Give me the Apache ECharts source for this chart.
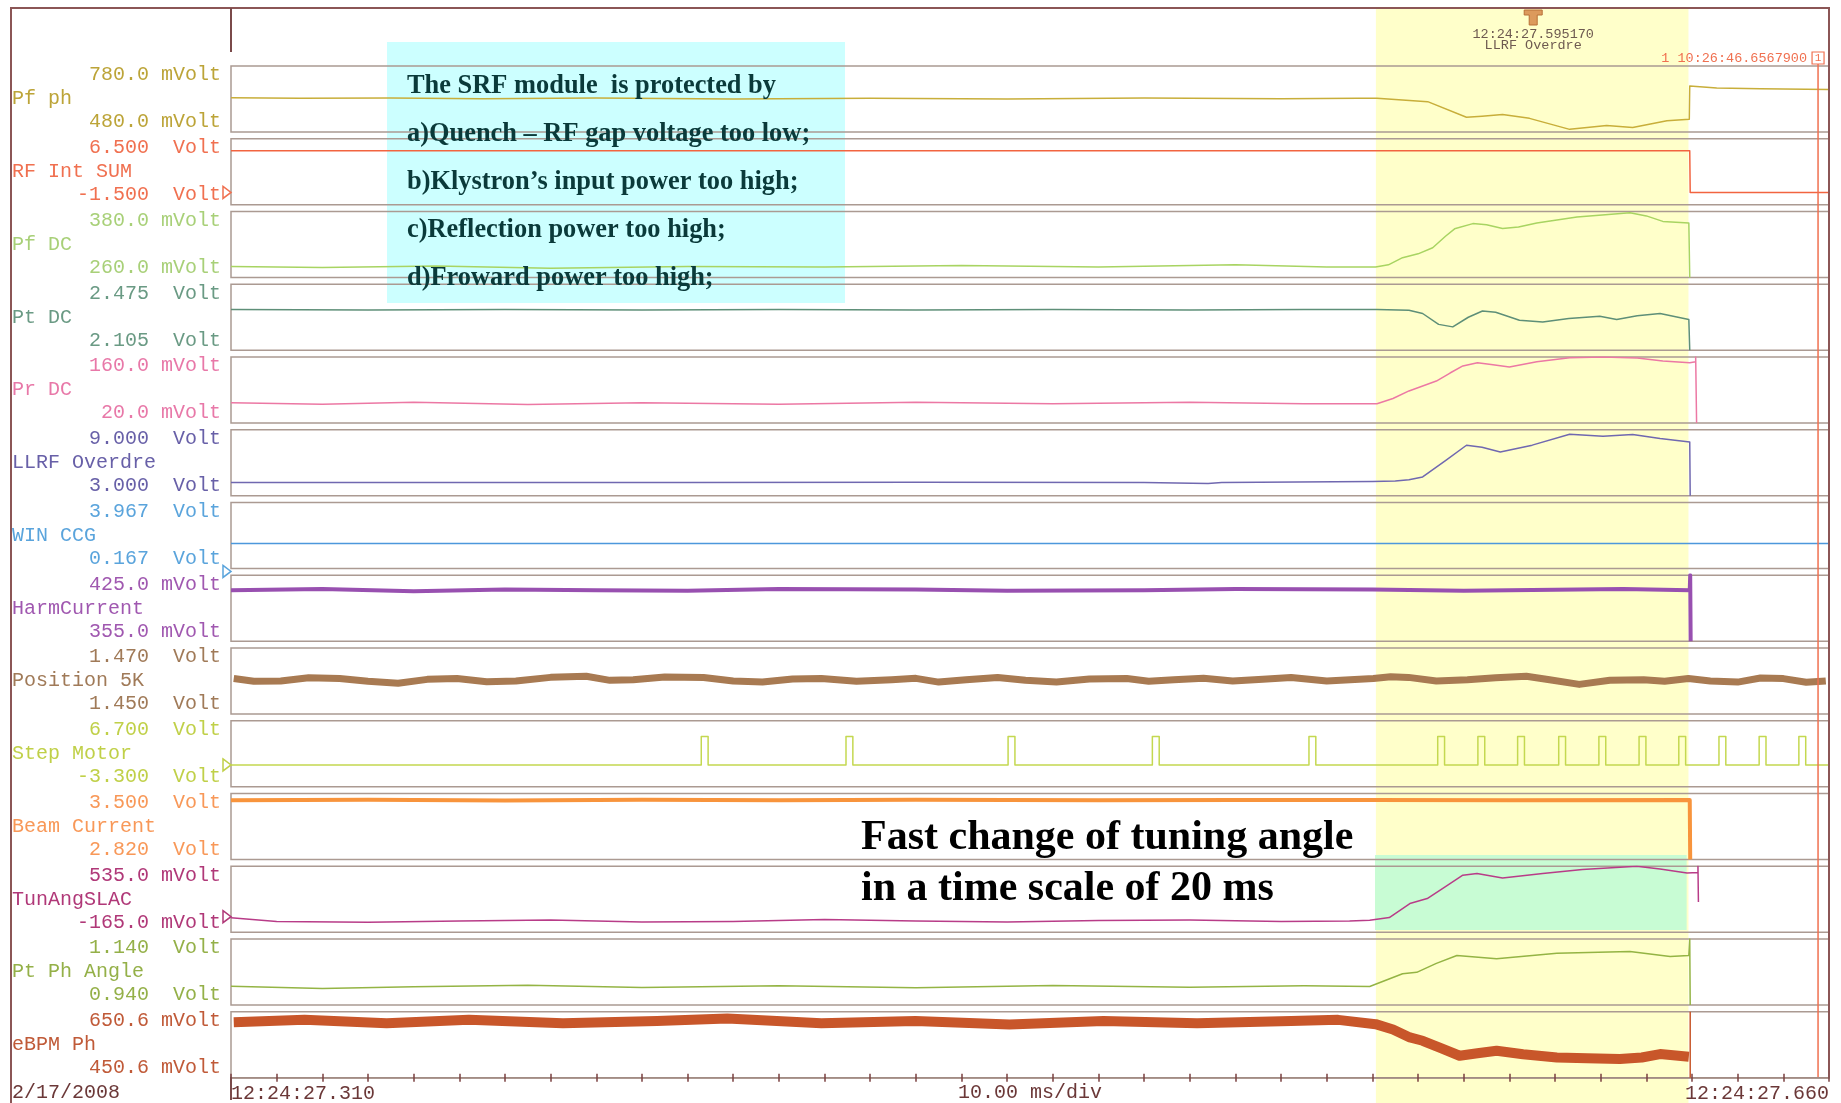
<!DOCTYPE html>
<html><head><meta charset="utf-8">
<script src="https://cdn.jsdelivr.net/npm/echarts@6/dist/echarts.min.js"></script>
<style>html,body{margin:0;padding:0;background:#fff}#c{width:1841px;height:1103px}</style>
</head><body><div id="c"></div>
<script>
// ---------------- DATA ----------------
const timeStart = 310, timeEnd = 660;           // ms after 12:24:27.000
const tickLabels = ['12:24:27.310', '12:24:27.660'];
const axisUnit = '10.00 ms/div';
const dateText = '2/17/2008';
const triggerTime = 595.17;
const triggerText = ['12:24:27.595170', 'LLRF Overdre'];
const cursorText = '1 10:26:46.6567900';
const cursorTime = 657.6;
const highlightYellow = [560.7, 629.2];
const highlightGreen = [560.5, 628.8];

const names = ['Pf ph','RF Int SUM','Pf DC','Pt DC','Pr DC','LLRF Overdre','WIN CCG','HarmCurrent','Position 5K','Step Motor','Beam Current','TunAngSLAC','Pt Ph Angle','eBPM Ph'];
const topLabels = ['780.0 mVolt','6.500  Volt','380.0 mVolt','2.475  Volt','160.0 mVolt','9.000  Volt','3.967  Volt','425.0 mVolt','1.470  Volt','6.700  Volt','3.500  Volt','535.0 mVolt','1.140  Volt','650.6 mVolt'];
const bottomLabels = ['480.0 mVolt','-1.500  Volt','260.0 mVolt','2.105  Volt','20.0 mVolt','3.000  Volt','0.167  Volt','355.0 mVolt','1.450  Volt','-3.300  Volt','2.820  Volt','-165.0 mVolt','0.940  Volt','450.6 mVolt'];
const yMax = [780, 6.5, 380, 2.475, 160, 9, 3.967, 425, 1.47, 6.7, 3.5, 535, 1.14, 650.6];
const yMin = [480, -1.5, 260, 2.105, 20, 3, 0.167, 355, 1.45, -3.3, 2.82, -165, 0.94, 450.6];
const zeroMarkers = [1, 6, 9, 11];

const pfPh = [[310,636],[325,633],[345,635],[365,631],[390,634],[420,630],[450,633],[480,630],[510,634],[540,631],[556.9,633],[561,633],[572.1,618],[580.6,547],[584,552],[588.5,560],[594.4,542],[603.2,492],[607,500],[611.3,509],[617,500],[624.5,531],[629.4,538],[629.5,689],[635.4,680],[645,677],[660,673]];
const rfIntSum = [[310,5.05],[629.5,5.05],[629.6,0],[660,0]];
const pfDC = [[310,280],[330,278],[355,281],[380,277],[410,280],[440,279],[470,282],[500,279],[530,283],[550,279],[560.7,279],[563.5,283],[566.6,296],[570,303],[573.2,314],[576,335],[578,348.5],[582,358],[585,356],[588.5,349],[592,352],[596,359],[604.8,370],[611,374],[616.4,377.6],[620,372],[623.6,362],[629.3,359],[629.5,260]];
const ptDC = [[310,2.333],[340,2.331],[370,2.334],[400,2.330],[430,2.333],[460,2.331],[490,2.334],[520,2.331],[545,2.333],[561,2.333],[568,2.329],[571,2.311],[574.5,2.250],[577.6,2.236],[581,2.290],[584.1,2.325],[587,2.318],[592.2,2.273],[597.3,2.264],[603,2.283],[609.8,2.296],[613.5,2.277],[618,2.298],[623,2.311],[629.3,2.277],[629.5,2.105]];
const prDC = [[310,63],[330,60],[350,64],[375,59],[400,63],[430,60],[460,64],[490,61],[520,64],[545,61],[561,61],[564.5,72],[568,88],[574,109],[577,126],[579.8,141],[583,148],[586,144],[590,139],[596,150],[603.2,158.5],[610.5,160],[618,158],[623.6,151.5],[629.5,148],[630.8,150],[630.8,160],[631,20]];
const llrfOverdrive = [[310,4.2],[360,4.21],[410,4.2],[460,4.22],[510,4.2],[524,4.12],[527,4.2],[560,4.3],[565,4.35],[568,4.45],[571,4.71],[576,6.2],[580.6,7.59],[584,7.4],[588,6.98],[595,7.6],[603.2,8.59],[610.5,8.41],[617,8.56],[623,8.2],[629.5,7.89],[629.6,3.0]];
const winCCG = [[310,1.6],[400,1.61],[500,1.6],[600,1.61],[660,1.6]];
const harmCurrent = [[310,409],[330,410.5],[350,408],[370,410],[390,409],[410,408.5],[430,410.5],[460,410],[480,408.5],[510,409],[530,410.5],[560,410],[580,408.5],[600,409.5],[615,410.5],[629.5,409],[629.6,425],[629.7,355]];
const position5K = [[310.6,1.46073],[315,1.45990],[320.9,1.46003],[327,1.46100],[333.8,1.46073],[340,1.45990],[346.6,1.4593],[353,1.46050],[359.5,1.46073],[366,1.45980],[372.4,1.46003],[380,1.46110],[387.8,1.46145],[393,1.46020],[398.1,1.46039],[405,1.46120],[413.5,1.46109],[420,1.46000],[426.4,1.45967],[433,1.46060],[439.3,1.46073],[447,1.45990],[454.7,1.46039],[460,1.46080],[465,1.45967],[471,1.46040],[477.9,1.46109],[484,1.46020],[490.8,1.45967],[498,1.46060],[506.2,1.46073],[511,1.45990],[516.5,1.46039],[523,1.46080],[529.4,1.46003],[536,1.46050],[542.2,1.46109],[550,1.46000],[560.2,1.46073],[564,1.46130],[567.9,1.46109],[574,1.46000],[580.8,1.46039],[587,1.46100],[593.7,1.46145],[598.8,1.46039],[605.3,1.45897],[612,1.46020],[619.4,1.46039],[624,1.45990],[629.2,1.46073],[634,1.46000],[640,1.45967],[645,1.46090],[650,1.46073],[655,1.45960],[659.3,1.46003]];
const stepStarts = [413.0, 444.7, 480.2, 511.8, 546.1, 574.3, 583.1, 591.8, 600.8, 609.6, 618.4, 627.1, 635.9, 644.7, 653.4];
const stepHigh = 4.3, stepLow = 0, stepWidth = 1.5;
const beamCurrent = [[310,3.43],[340,3.435],[370,3.428],[400,3.435],[430,3.43],[460,3.436],[500,3.43],[530,3.434],[560,3.433],[590,3.43],[629.5,3.432],[629.6,2.82]];
const tunAngSLAC = [[310,-10],[320,-50],[340,-60],[360,-45],[380,-35],[400,-55],[420,-50],[440,-30],[460,-45],[480,-55],[500,-40],[520,-35],[540,-50],[555,-45],[559.4,-38],[563.7,-9],[568.2,139],[572,192],[576,320],[579.8,440],[582.9,458],[588.5,411],[597.3,458],[606,500],[617.9,535],[623,505],[628.9,464],[631.3,470],[631.3,535],[631.4,156]];
const ptPhAngle = [[310,0.997],[330,0.99],[350,0.995],[375,1.0],[400,0.993],[430,0.998],[460,0.992],[490,0.999],[520,0.994],[545,0.998],[559.4,0.996],[566.6,1.0345],[569.7,1.039],[574,1.066],[578.5,1.09],[587.2,1.08],[600.4,1.097],[616.4,1.102],[625.2,1.087],[629.3,1.09],[629.5,1.14],[629.6,0.94]];
const eBpmPh = [[310.6,619],[326.1,626],[344.1,615.5],[362.1,626],[382.7,615.5],[403.3,622.7],[418.7,630],[439.3,615.5],[459.9,622.7],[480.5,612],[501.1,622.7],[521.6,615.5],[542.2,622.7],[552.5,626],[560.7,613],[564.5,597],[568.2,572.7],[571,562.7],[575,540],[579.1,517.3],[583,525],[587.2,532.4],[593,522],[600.4,512.1],[607,510],[614.2,507.3],[619,512],[623,522.4],[629.3,514.2]];
const eBpmDrop = [[629.6,650.6],[629.6,450.6]];

const noteLines = ['The SRF module  is protected by','a)Quench \u2013 RF gap voltage too low;','b)Klystron\u2019s input power too high;','c)Reflection power too high;','d)Froward power too high;'];
const fastLines = ['Fast change of tuning angle','in a time scale of 20 ms'];

// ---------------- STYLE / LAYOUT ----------------
const traceColors = ['#c8ae3a','#f26440','#a8d462','#5e8f78','#ec78a4','#7068b0','#4c98dc','#9850b0','#a87a52','#c4d850','#f8943c','#b83c88','#94b444','#c8562a'];
const labelColors = ['#bca438','#f07050','#a8d078','#6a9a84','#e878a8','#6860a8','#5aa4dc','#a058b0','#a07a58','#c0d048','#f89858','#b03878','#94b048','#c05a38'];
const traceWidths = [1.5,1.5,1.5,1.5,1.5,1.5,1.5,4,7,1.5,4,1.5,1.5,10];
const MONO = "'Liberation Mono','Courier New',monospace";
const SERIF = "'Liberation Serif','Times New Roman',serif";
const TOP0 = 66, PITCH = 72.75, H = 66, LEFT = 231, RIGHT = 1829;
const T = i => TOP0 + PITCH * i;
const xPix = t => LEFT + 1 + (t - timeStart) * (RIGHT - LEFT - 1) / (timeEnd - timeStart);

function stepData() {
  const d = [[timeStart, stepLow]];
  stepStarts.forEach(s => { d.push([s, stepLow], [s, stepHigh], [s + stepWidth, stepHigh], [s + stepWidth, stepLow]); });
  d.push([timeEnd, stepLow]);
  return d;
}
const traces = [pfPh, rfIntSum, pfDC, ptDC, prDC, llrfOverdrive, winCCG, harmCurrent, position5K, stepData(), beamCurrent, tunAngSLAC, ptPhAngle, eBpmPh];

const grids = [], xAxes = [], yAxes = [], series = [];
for (let i = 0; i < 14; i++) {
  grids.push({left: LEFT, top: T(i), width: RIGHT - LEFT, height: H, show: true, borderColor: '#ab9a92', borderWidth: 1.5, backgroundColor: 'transparent', containLabel: false, outerBoundsMode: 'none'});
  const last = i === 13;
  xAxes.push({
    type: 'value', gridIndex: i, min: timeStart, max: timeEnd, interval: 10, show: last,
    axisLine: {show: last, lineStyle: {color: '#a08880', width: 1.5}},
    axisTick: {show: last, length: 4, lineStyle: {color: '#7a4040', width: 1.5}},
    splitLine: {show: false},
    axisLabel: {show: last, color: '#6b3838', fontFamily: MONO, fontSize: 20, margin: 6, alignMinLabel: 'left', alignMaxLabel: 'right',
      formatter: v => v === timeStart ? tickLabels[0] : (v === timeEnd ? tickLabels[1] : '')}
  });
  yAxes.push({type: 'value', gridIndex: i, min: yMin[i], max: yMax[i], show: false, splitLine: {show: false}});
  series.push({type: 'line', xAxisIndex: i, yAxisIndex: i, data: traces[i], symbol: 'none', showSymbol: false, animation: false, clip: true,
    lineStyle: {color: traceColors[i], width: traceWidths[i], join: 'round'}, z: 3});
}
// inward ticks on the time axis
xAxes.push({type: 'value', gridIndex: 13, min: timeStart, max: timeEnd, interval: 10, position: 'bottom',
  axisLine: {show: false}, axisLabel: {show: false}, splitLine: {show: false},
  axisTick: {show: true, inside: true, length: 4, lineStyle: {color: '#7a4040', width: 1.5}}});
series.push({type: 'line', xAxisIndex: 13, yAxisIndex: 13, data: eBpmDrop, symbol: 'none', animation: false, lineStyle: {color: '#c8562a', width: 1.5}, z: 3});

// ---------------- GRAPHICS ----------------
const g = [];
const yl = xPix(highlightYellow[0]), yr = xPix(highlightYellow[1]);
g.push({type: 'rect', z: -5, shape: {x: yl, y: 8, width: yr - yl, height: 1103 - 8}, style: {fill: '#ffffca'}});
const gl = xPix(highlightGreen[0]), gr = xPix(highlightGreen[1]);
g.push({type: 'rect', z: -4, shape: {x: gl, y: 855, width: gr - gl, height: 75}, style: {fill: '#c8fcd4'}});
g.push({type: 'rect', z: -4, shape: {x: 387, y: 42, width: 458, height: 261}, style: {fill: '#ccffff'}});
// frame
g.push({type: 'polyline', z: 10, shape: {points: [[11, 1103], [11, 8], [RIGHT, 8], [RIGHT, 1077]]}, style: {stroke: '#8b5656', lineWidth: 2, fill: null}});
g.push({type: 'line', z: 10, shape: {x1: LEFT, y1: 8, x2: LEFT, y2: 52}, style: {stroke: '#7a4a4a', lineWidth: 2}});
g.push({type: 'line', z: 10, shape: {x1: LEFT, y1: 1077, x2: LEFT, y2: 1100}, style: {stroke: '#7a4a4a', lineWidth: 2}});
// strip labels
for (let i = 0; i < 14; i++) {
  const top = T(i), bot = T(i) + H;
  g.push({type: 'text', z: 20, style: {text: names[i], x: 12, y: top + 33, fill: labelColors[i], font: '20px ' + MONO, textVerticalAlign: 'middle', verticalAlign: 'middle'}});
  g.push({type: 'text', z: 20, style: {text: topLabels[i], x: 221, y: top + 9, fill: labelColors[i], font: '20px ' + MONO, textAlign: 'right', align: 'right', textVerticalAlign: 'middle', verticalAlign: 'middle'}});
  g.push({type: 'text', z: 20, style: {text: bottomLabels[i], x: 221, y: bot - 10, fill: labelColors[i], font: '20px ' + MONO, textAlign: 'right', align: 'right', textVerticalAlign: 'middle', verticalAlign: 'middle'}});
}
zeroMarkers.forEach(i => {
  let y = T(i) + (yMax[i] - 0) / (yMax[i] - yMin[i]) * H;
  y = Math.min(y, T(i) + H + 4);
  g.push({type: 'polygon', z: 20, shape: {points: [[223, y - 6], [231, y], [223, y + 6]]}, style: {fill: 'none', stroke: labelColors[i], lineWidth: 1.5}});
});
// trigger marker
const tx = xPix(triggerTime);
g.push({type: 'polygon', z: 20, shape: {points: [[tx - 9, 10], [tx + 9, 10], [tx + 9, 15], [tx + 4, 15], [tx + 4, 25], [tx - 4, 25], [tx - 4, 15], [tx - 9, 15]]}, style: {fill: '#dc9a5c', stroke: '#b87038', lineWidth: 1}});
g.push({type: 'text', z: 20, style: {text: triggerText[0], x: tx, y: 34, fill: '#6e5a50', font: '13.5px ' + MONO, textAlign: 'center', align: 'center', textVerticalAlign: 'middle', verticalAlign: 'middle'}});
g.push({type: 'text', z: 20, style: {text: triggerText[1], x: tx, y: 45, fill: '#6e5a50', font: '13.5px ' + MONO, textAlign: 'center', align: 'center', textVerticalAlign: 'middle', verticalAlign: 'middle'}});
// cursor
const cx = xPix(cursorTime);
g.push({type: 'line', z: 15, shape: {x1: cx, y1: 64, x2: cx, y2: 1077}, style: {stroke: '#f07050', lineWidth: 1.5}});
g.push({type: 'rect', z: 15, shape: {x: cx - 6, y: 52, width: 12, height: 12}, style: {fill: '#fff', stroke: '#f07050', lineWidth: 1.2}});
g.push({type: 'text', z: 16, style: {text: '1', x: cx, y: 58, fill: '#f07050', font: '11px ' + MONO, textAlign: 'center', align: 'center', textVerticalAlign: 'middle', verticalAlign: 'middle'}});
g.push({type: 'text', z: 16, style: {text: cursorText, x: cx - 11, y: 58, fill: '#f07050', font: '13.5px ' + MONO, textAlign: 'right', align: 'right', textVerticalAlign: 'middle', verticalAlign: 'middle'}});
// bottom texts
g.push({type: 'text', z: 20, style: {text: dateText, x: 12, y: 1093, fill: '#6b3838', font: '20px ' + MONO, textVerticalAlign: 'middle', verticalAlign: 'middle'}});
g.push({type: 'text', z: 20, style: {text: axisUnit, x: (LEFT + RIGHT) / 2, y: 1093, fill: '#6b3838', font: '20px ' + MONO, textAlign: 'center', align: 'center', textVerticalAlign: 'middle', verticalAlign: 'middle'}});
// annotation texts
noteLines.forEach((s, k) => {
  g.push({type: 'text', z: 30, style: {text: s, x: 407, y: 86 + 48 * k, fill: '#0a3a3a', font: 'bold 26.4px ' + SERIF, textVerticalAlign: 'middle', verticalAlign: 'middle'}});
});
fastLines.forEach((s, k) => {
  g.push({type: 'text', z: 30, style: {text: s, x: 861, y: 838 + 51 * k, fill: '#000', font: 'bold 42px ' + SERIF, textVerticalAlign: 'middle', verticalAlign: 'middle'}});
});

const chart = echarts.init(document.getElementById('c'), null, {renderer: 'canvas'});
chart.setOption({
  animation: false,
  backgroundColor: '#ffffff',
  grid: grids, xAxis: xAxes, yAxis: yAxes, series: series,
  graphic: {elements: g}
});
</script></body></html>
